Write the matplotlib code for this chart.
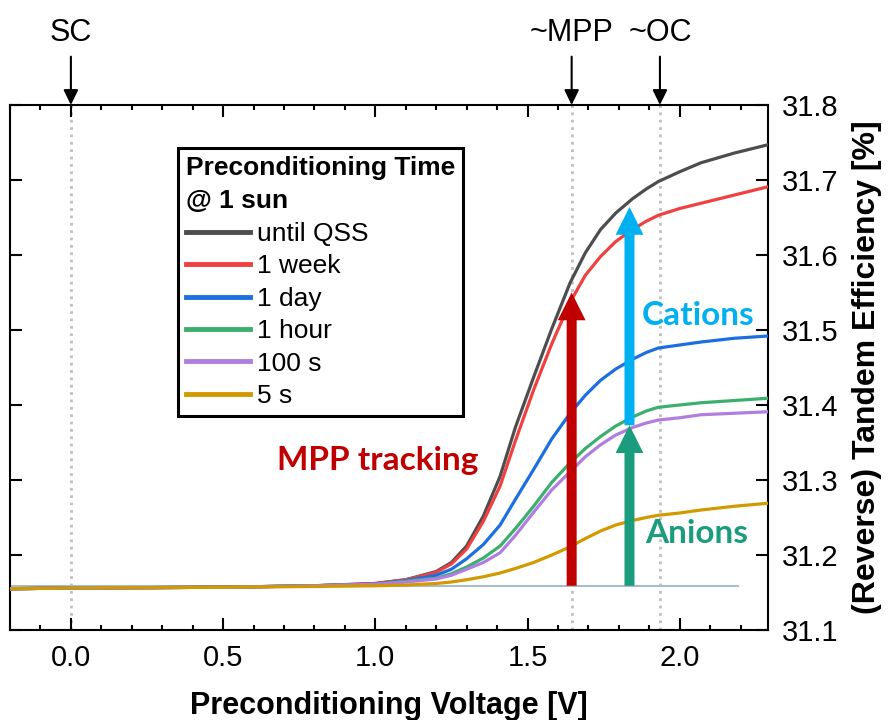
import matplotlib
matplotlib.use("Agg")
import matplotlib.pyplot as plt
from matplotlib.ticker import MultipleLocator, FormatStrFormatter

plt.rcParams['font.family'] = ['Liberation Sans', 'DejaVu Sans']

# Preconditioning voltage (V)
voltage = [-0.2, 0.0, 0.5, 0.8, 1.0, 1.1, 1.2, 1.25, 1.3, 1.355, 1.41, 1.46, 1.52,
           1.58, 1.64, 1.69, 1.74, 1.79, 1.845, 1.89, 1.93, 2.0, 2.07, 2.18, 2.29]

# Reverse tandem efficiency (%) per preconditioning time
eff_qss = [31.155, 31.156, 31.157, 31.159, 31.162, 31.167, 31.178, 31.190, 31.212, 31.252,
           31.305, 31.370, 31.437, 31.502, 31.563, 31.603, 31.634, 31.656, 31.675, 31.688,
           31.698, 31.711, 31.723, 31.736, 31.747]
eff_week = [31.155, 31.156, 31.157, 31.159, 31.162, 31.167, 31.177, 31.188, 31.208, 31.245,
            31.292, 31.352, 31.420, 31.482, 31.537, 31.573, 31.598, 31.618, 31.634, 31.645,
            31.653, 31.662, 31.669, 31.680, 31.691]
eff_day = [31.155, 31.156, 31.157, 31.159, 31.161, 31.166, 31.173, 31.181, 31.195, 31.214,
           31.240, 31.274, 31.314, 31.355, 31.389, 31.413, 31.433, 31.448, 31.461, 31.470,
           31.476, 31.480, 31.484, 31.489, 31.492]
eff_hour = [31.155, 31.156, 31.157, 31.159, 31.161, 31.165, 31.169, 31.175, 31.184, 31.196,
            31.212, 31.235, 31.265, 31.297, 31.323, 31.342, 31.358, 31.372, 31.384, 31.392,
            31.397, 31.400, 31.403, 31.406, 31.409]
eff_100s = [31.155, 31.156, 31.157, 31.159, 31.161, 31.164, 31.168, 31.173, 31.181, 31.190,
            31.203, 31.226, 31.257, 31.287, 31.311, 31.331, 31.347, 31.360, 31.370, 31.376,
            31.380, 31.383, 31.387, 31.389, 31.391]
eff_5s = [31.155, 31.156, 31.157, 31.158, 31.159, 31.160, 31.162, 31.164, 31.167, 31.171,
          31.176, 31.182, 31.190, 31.200, 31.211, 31.222, 31.232, 31.240, 31.246, 31.250,
          31.253, 31.256, 31.260, 31.265, 31.269]

series = [eff_qss, eff_week, eff_day, eff_hour, eff_100s, eff_5s]
labels = ["until QSS", "1 week", "1 day", "1 hour", "100 s", "5 s"]
colors = ["#4D4D4D", "#F0403F", "#1C6FE0", "#3CAF6E", "#B07EE0", "#D09A00"]

# marked operating points
points = [0.0, 1.645, 1.935]
point_labels = ["SC", "~MPP", "~OC"]

baseline = 31.159
arrow_x = [1.645, 1.835, 1.835]
arrow_lo = [baseline, 31.373, baseline]
arrow_hi = [31.55, 31.664, 31.373]
arrow_colors = ["#C00000", "#00B0F0", "#1B9C7D"]

fig = plt.figure(figsize=(8.89, 7.2), dpi=100)
ax = fig.add_axes([10 / 889, 1 - 630 / 720, 758 / 889, 525 / 720])

for p in points:
    ax.axvline(p, color="#BFBFBF", ls=":", lw=2, zorder=1)

ax.plot([-0.2, 2.19], [baseline, baseline], color="#A9BCC9", lw=1.5, zorder=2)

for y, lab, c in zip(series, labels, colors):
    ax.plot(voltage, y, color=c, lw=2.3, label=lab, zorder=3)

for x, lo, hi, c in zip(arrow_x, arrow_lo, arrow_hi, arrow_colors):
    ax.annotate("", xy=(x, hi), xytext=(x, lo),
                arrowprops=dict(arrowstyle="simple,head_length=1,head_width=1,tail_width=0.36",
                                color=c, lw=0, shrinkA=0, shrinkB=0, mutation_scale=20),
                zorder=4)

lato = ["Lato", "DejaVu Sans"]
ax.text(1.007, 31.313, "MPP tracking", color="#C00000", fontsize=24, fontweight="bold",
        family=lato, ha="center", va="baseline")
ax.text(2.062, 31.507, "Cations", color="#00B0F0", fontsize=24, fontweight="bold",
        family=lato, ha="center", va="baseline")
ax.text(2.056, 31.216, "Anions", color="#1B9C7D", fontsize=24, fontweight="bold",
        family=lato, ha="center", va="baseline")

for p, lab in zip(points, point_labels):
    ax.annotate(lab, xy=(p, 1.0), xycoords=("data", "axes fraction"),
                xytext=(p, 1.108), textcoords=("data", "axes fraction"),
                ha="center", va="bottom", fontsize=22,
                arrowprops=dict(arrowstyle="-|>,head_length=0.45,head_width=0.22",
                                color="black", lw=1.5, shrinkA=4, shrinkB=0,
                                mutation_scale=20))

ax.set_xlim(-0.2, 2.29)
ax.set_ylim(31.1, 31.8)
ax.xaxis.set_major_locator(MultipleLocator(0.5))
ax.xaxis.set_minor_locator(MultipleLocator(0.1))
ax.xaxis.set_major_formatter(FormatStrFormatter("%.1f"))
ax.yaxis.set_major_locator(MultipleLocator(0.1))
ax.yaxis.set_major_formatter(FormatStrFormatter("%.1f"))

ax.tick_params(axis="both", which="both", direction="in", top=True, bottom=True,
               left=True, right=True, labelleft=False, labelright=True,
               labelsize=21, width=1.5, pad=10)
ax.tick_params(which="major", length=8.5)
ax.tick_params(which="minor", length=3.6)
for s in ax.spines.values():
    s.set_linewidth(1.5)

ax.yaxis.set_label_position("right")
ax.set_xlabel("Preconditioning Voltage [V]", fontsize=22, fontweight="bold", labelpad=14)
ax.set_ylabel("(Reverse) Tandem Efficiency [%]", fontsize=23, fontweight="bold", labelpad=10)

leg = ax.legend(loc="upper left", bbox_to_anchor=(0.222, 0.918), borderaxespad=0,
                title="Preconditioning Time\n@ 1 sun", alignment="left",
                title_fontproperties={"weight": "bold", "size": 19}, fontsize=19,
                handlelength=2.4, handletextpad=0.3, labelspacing=0.32, borderpad=0.3,
                fancybox=False, framealpha=1)
leg.get_title().set_linespacing(1.5)
leg.get_frame().set_edgecolor("black")
leg.get_frame().set_linewidth(2.2)
for h in leg.get_lines():
    h.set_linewidth(3.5)
leg.set_zorder(10)

fig.savefig("out.png", dpi=100)
